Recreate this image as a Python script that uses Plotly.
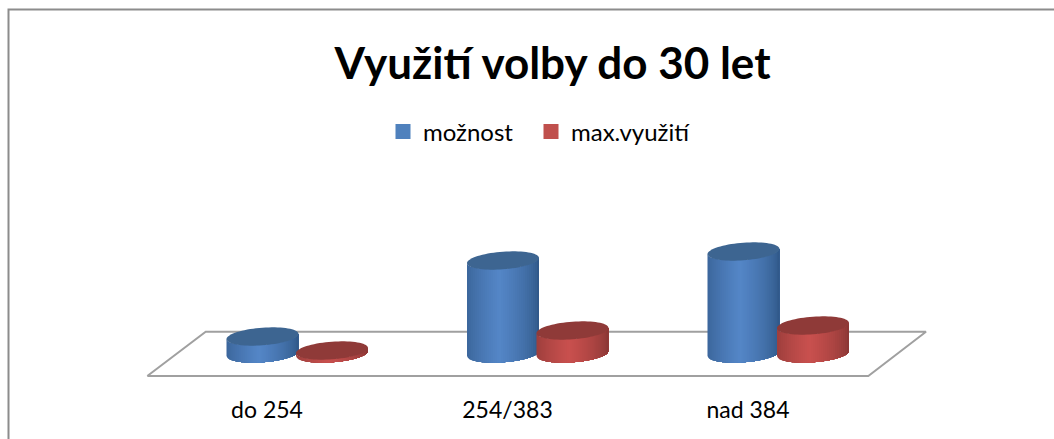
import numpy as np
import plotly.graph_objects as go

categories = ["do 254", "254/383", "nad 384"]
series_names = ["možnost", "max.využití"]
moznost = [17, 93, 102]
max_vyuziti = [3, 23, 28]

W, H, BOTTOM = 1054, 439, 59
PLOT_H = H - BOTTOM
X0_PX, X_STEP_PX, BASE_PX = 267.0, 240.5, 353.5


def xd(px):
    return (px - X0_PX) / X_STEP_PX


HALF_W = 36.0 / X_STEP_PX
ELL_B, ELL_K = 8.8, 2.6
OFFSETS = [-4.5 / X_STEP_PX, 65.0 / X_STEP_PX]
BODY_EDGE = [(45, 84, 130), (132, 52, 50)]
BODY_MID = [(84, 134, 199), (201, 80, 78)]
TOP = ["#3D6591", "#8F3A38"]
LEGEND_COL = ["#4F81BD", "#C0504D"]
LEGEND_IDS = ["legend", "legend2"]
N = 36

fig = go.Figure()

# floor of the 3D plot
fig.add_trace(go.Scatter(
    x=[xd(147.3), xd(205.7), xd(926), xd(868.3), xd(147.3)],
    y=[-22.5, 21.8, 21.8, -22.5, -22.5],
    mode="lines", line=dict(color="#A0A0A0", width=2),
    showlegend=False, hoverinfo="skip"))


def cylinder(cx, h, s):
    edges = np.linspace(-1, 1, N + 1)
    for i in range(N):
        # each strip runs to the right end; the next one paints over it, so no seams
        us = np.linspace(edges[i], 1, max(3, (N - i) * 2))
        xs = cx + HALF_W * us
        front = -ELL_B * np.sqrt(np.clip(1 - us ** 2, 0, 1)) + ELL_K * us
        mid = (edges[i] + edges[i + 1]) / 2
        f = (1 - abs(mid + 0.1) / 1.1) ** 0.6
        f = max(0.0, min(1.0, f))
        c = [round(a + (b - a) * f) for a, b in zip(BODY_EDGE[s], BODY_MID[s])]
        col = f"rgb({c[0]},{c[1]},{c[2]})"
        fig.add_trace(go.Scatter(
            x=np.r_[xs, xs[::-1]], y=np.r_[front, (front + h)[::-1]],
            mode="none", fill="toself", fillcolor=col,
            showlegend=False, hoverinfo="skip"))
    t = np.linspace(0, 2 * np.pi, 73)
    fig.add_trace(go.Scatter(
        x=cx + HALF_W * np.cos(t),
        y=h + ELL_B * np.sin(t) + ELL_K * np.cos(t),
        mode="none", fill="toself", fillcolor=TOP[s],
        showlegend=False, hoverinfo="skip"))


for i in range(len(categories)):
    for s, vals in enumerate([moznost, max_vyuziti]):
        cylinder(i + OFFSETS[s], vals[i], s)

for s, name in enumerate(series_names):
    fig.add_trace(go.Scatter(
        x=[None], y=[None], name=name, mode="markers", legend=LEGEND_IDS[s],
        marker=dict(symbol="square", size=15, color=LEGEND_COL[s])))

# chart frame: only the top and left edges fall inside the picture
fx = 8.5 / W
fy = 1 - 9.5 / PLOT_H
fig.add_shape(type="path", xref="paper", yref="paper",
              path=f"M {fx} -0.5 L {fx} {fy} L 1.01 {fy}",
              line=dict(color="#8C8C8C", width=2))

legend_common = dict(orientation="h", xanchor="left", y=1 - 132 / PLOT_H, yanchor="middle",
                     font=dict(size=24), bgcolor="rgba(0,0,0,0)")

fig.update_layout(
    width=W, height=H,
    margin=dict(l=0, r=0, t=0, b=BOTTOM, autoexpand=False),
    paper_bgcolor="white", plot_bgcolor="white",
    font=dict(family="Lato", color="#000000"),
    title=dict(text="Využití volby do 30 let", x=552.5 / W, xanchor="center",
               y=1 - 64 / H, yanchor="middle",
               font=dict(family="Lato", size=44, weight=700, color="#000000")),
    legend=dict(x=383 / W, **legend_common),
    legend2=dict(x=531 / W, **legend_common),
    xaxis=dict(range=[xd(0), xd(W)], tickmode="array", tickvals=[0, 1, 2],
               ticktext=categories, showgrid=False, zeroline=False, showline=False,
               ticks="outside", ticklen=9, tickcolor="rgba(0,0,0,0)",
               tickfont=dict(size=23, family="Lato")),
    yaxis=dict(range=[BASE_PX - PLOT_H, BASE_PX], visible=False),
    hovermode=False,
)

fig.write_html("out.html", config=dict(displayModeBar=False),
               post_script="document.body.style.margin='0';document.documentElement.style.overflow='hidden';")
